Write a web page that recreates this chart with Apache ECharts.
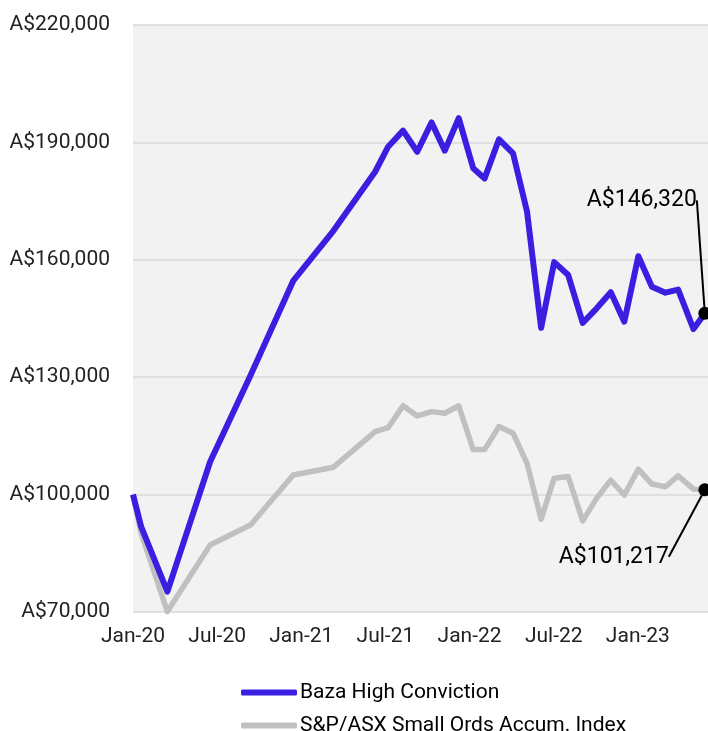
<!DOCTYPE html>
<html>
<head>
<meta charset="utf-8">
<script src="https://cdn.jsdelivr.net/npm/echarts@6/dist/echarts.min.js"></script>
<style>
html,body{margin:0;padding:0;background:#fff;}
#chart{width:708px;height:731px;}
</style>
</head>
<body>
<div id="chart"></div>
<script>
// ---- data ----
const dates = ['2020-01-01','2020-01-19','2020-03-15','2020-06-16','2020-09-13','2020-12-14','2021-03-10','2021-06-09',
  '2021-07-07','2021-08-09','2021-09-09','2021-10-10','2021-11-08','2021-12-08','2022-01-09','2022-02-03',
  '2022-03-04','2022-04-04','2022-05-04','2022-06-04','2022-07-02','2022-08-02','2022-09-03','2022-10-03',
  '2022-11-03','2022-12-02','2023-01-02','2023-02-01','2023-02-28','2023-03-28','2023-04-30','2023-05-25'];
const bazaValues = [100000, 91800, 75200, 108400, 130600, 154600, 167400, 182500,
  188900, 193000, 187600, 195100, 187900, 196200, 183400, 180800,
  190800, 187200, 172300, 142600, 159400, 156100, 143900, 147600,
  151700, 144200, 160900, 153100, 151600, 152400, 142300, 146320];
const indexValues = [100000, 90100, 70100, 87100, 92300, 105000, 107000, 116100,
  117100, 122700, 120100, 121200, 120800, 122700, 111500, 111500,
  117400, 115700, 108000, 93700, 104200, 104600, 93300, 99100,
  103700, 99900, 106500, 102700, 102000, 104800, 101400, 101217];
const xTickLabels = ['Jan-20','Jul-20','Jan-21','Jul-21','Jan-22','Jul-22','Jan-23'];
const yTicks = [70000, 100000, 130000, 160000, 190000, 220000];
const seriesNames = ['Baza High Conviction', 'S&P/ASX Small Ords Accum. Index'];

// ---- helpers ----
function monthIndex(s) {
  const [y, m, d] = s.split('-').map(Number);
  const dim = new Date(y, m, 0).getDate();
  return (y - 2020) * 12 + (m - 1) + (d - 1) / dim;
}
function fmtMoney(v) {
  return 'A$' + Math.round(v).toString().replace(/\B(?=(\d{3})+(?!\d))/g, ',');
}
function buildData(values, labelPos) {
  const last = values.length - 1;
  return values.map((v, i) => {
    const item = { value: [monthIndex(dates[i]), v] };
    if (i === last) {
      item.symbol = 'circle';
      item.symbolSize = 13;
      item.itemStyle = { color: '#000' };
      item.label = {
        show: true, position: labelPos, formatter: fmtMoney(v),
        color: '#000', fontSize: 23, fontFamily: 'Roboto'
      };
      item.labelLine = { show: true, lineStyle: { color: '#000', width: 2 } };
    }
    return item;
  });
}

const FONT = 'Roboto';
const chart = echarts.init(document.getElementById('chart'), null, { renderer: 'canvas' });

const option = {
  animation: false,
  backgroundColor: '#fff',
  grid: {
    left: 133, right: 0, top: 25, bottom: 119,
    show: true, backgroundColor: '#F2F2F2', borderWidth: 0
  },
  xAxis: {
    type: 'value', min: 0, max: 41, interval: 6,
    axisLine: { show: false },
    axisTick: { show: false },
    splitLine: { show: false },
    axisLabel: {
      color: '#222', fontSize: 21, fontFamily: FONT, margin: 14,
      showMaxLabel: false,
      formatter: v => (v % 6 === 0 && v / 6 < xTickLabels.length) ? xTickLabels[v / 6] : ''
    }
  },
  yAxis: {
    type: 'value', min: yTicks[0], max: yTicks[yTicks.length - 1], interval: 30000,
    axisLine: { show: false },
    axisTick: { show: false },
    splitLine: { show: true, lineStyle: { color: '#D9D9D9', width: 1.5 } },
    axisLabel: {
      color: '#222', fontSize: 21, fontFamily: FONT, margin: 23,
      formatter: v => fmtMoney(v)
    }
  },
  legend: {
    orient: 'vertical', left: 236, top: 677, height: 80,
    itemWidth: 56, itemHeight: 6, itemGap: 12,
    icon: 'roundRect',
    textStyle: { color: '#000', fontSize: 21, fontFamily: FONT, padding: [0, 0, 0, -2] },
    data: seriesNames
  },
  series: [
    {
      name: seriesNames[1], type: 'line', data: buildData(indexValues, 'bottom'),
      symbol: 'circle', symbolSize: 0, showSymbol: true, showAllSymbol: true,
      lineStyle: { color: '#C0C0C0', width: 5.5, join: 'round' },
      itemStyle: { color: '#C0C0C0' },
      z: 2,
      labelLayout: p => (p.dataIndex === indexValues.length - 1 ? { dx: -91, dy: 44 } : {})
    },
    {
      name: seriesNames[0], type: 'line', data: buildData(bazaValues, 'top'),
      symbol: 'circle', symbolSize: 0, showSymbol: true, showAllSymbol: true,
      lineStyle: { color: '#3A1FE0', width: 6, join: 'round' },
      itemStyle: { color: '#3A1FE0' },
      z: 3,
      labelLayout: p => (p.dataIndex === bazaValues.length - 1 ? { dx: -63, dy: -90 } : {})
    }
  ]
};
chart.setOption(option);
</script>
</body>
</html>
